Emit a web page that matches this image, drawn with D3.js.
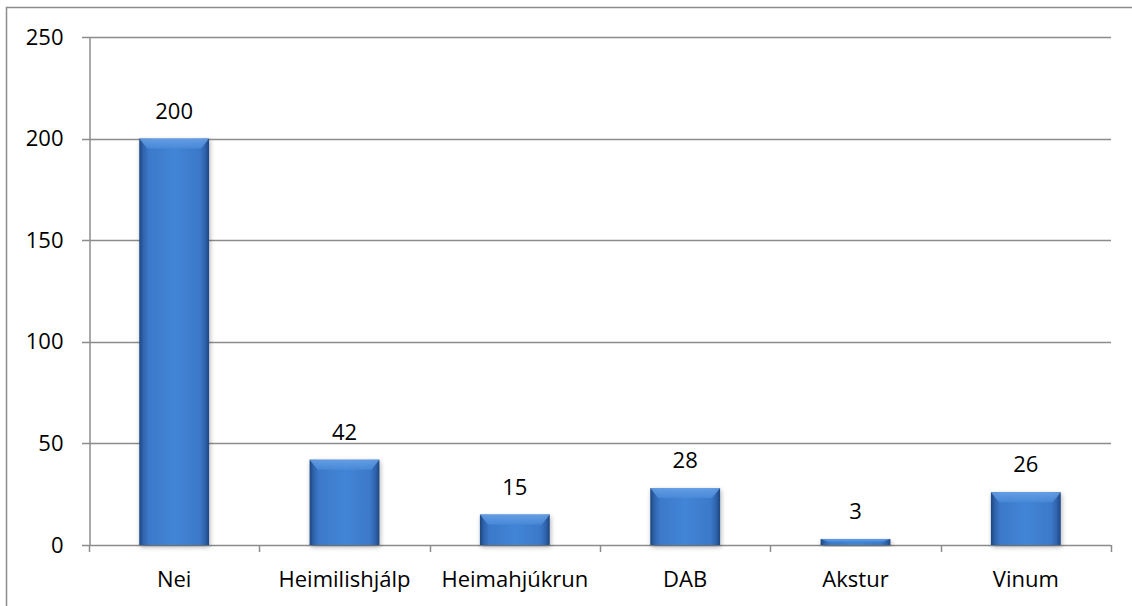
<!DOCTYPE html>
<html><head><meta charset="utf-8">
<script src="https://cdn.jsdelivr.net/npm/d3@7"></script>
<style>body{margin:0;background:#fff}svg{display:block}</style>
</head><body><svg id="c" width="1132" height="606"></svg>
<script>
const categories = ["Nei","Heimilishjálp","Heimahjúkrun","DAB","Akstur","Vinum"];
const values = [200,42,15,28,3,26];
const yTicks = [0,50,100,150,200,250];

const svg = d3.select("#c");
const font = "'Open Sans', sans-serif";
const fs = 22;
const m = {l:89, r:1111, t:37, b:545};

svg.append("rect").attr("x",6.5).attr("y",7.5).attr("width",1140).attr("height",620)
  .attr("fill","none").attr("stroke","#8c8c8c").attr("stroke-width",1.5);

const x = d3.scaleBand().domain(categories).range([m.l,m.r]).paddingInner(0.59).paddingOuter(0.295);
const y = d3.scaleLinear().domain([0,250]).range([m.b,m.t]);

const defs = svg.append("defs");
const g = defs.append("linearGradient").attr("id","bar").attr("x1","0").attr("x2","1").attr("y1","0").attr("y2","0");
[[0,"#1d4680"],[0.06,"#3064ad"],[0.14,"#3c79ca"],[0.5,"#4285d6"],[0.86,"#3c79ca"],[0.94,"#3064ad"],[1,"#1d4680"]]
  .forEach(([o,c])=>g.append("stop").attr("offset",o).attr("stop-color",c));
const gt = defs.append("linearGradient").attr("id","bartop").attr("x1","0").attr("x2","0").attr("y1","0").attr("y2","1");
[[0,"#6aa3e8"],[1,"#4a8ad8"]].forEach(([o,c])=>gt.append("stop").attr("offset",o).attr("stop-color",c));
const sh = defs.append("filter").attr("id","sh").attr("x","-20%").attr("y","-10%").attr("width","140%").attr("height","130%");
sh.append("feGaussianBlur").attr("in","SourceAlpha").attr("stdDeviation",2.5);
sh.append("feOffset").attr("dx",1).attr("dy",2).attr("result","b");
sh.append("feComponentTransfer").append("feFuncA").attr("type","linear").attr("slope",0.3);
const fm = sh.append("feMerge"); fm.append("feMergeNode"); fm.append("feMergeNode").attr("in","SourceGraphic");

// gridlines
svg.append("g").selectAll("line").data(yTicks).join("line")
  .attr("x1",m.l-7).attr("x2",m.r).attr("y1",d=>Math.round(y(d))+0.5).attr("y2",d=>Math.round(y(d))+0.5)
  .attr("stroke","#8c8c8c").attr("stroke-width",1.5);

// y axis
const ya = svg.append("g").attr("transform",`translate(${m.l+0.5},0)`)
  .call(d3.axisLeft(y).tickValues(yTicks).tickSize(0).tickPadding(26));
ya.select(".domain").attr("stroke","#8c8c8c").attr("stroke-width",1.5);
ya.selectAll("text").attr("font-family",font).attr("font-size",fs).attr("fill","#000");

// x axis
const xa = svg.append("g").attr("transform",`translate(0,${m.b+0.5})`)
  .call(d3.axisBottom(x).tickSize(0).tickPadding(0));
xa.select(".domain").remove();
xa.selectAll("text").attr("font-family",font).attr("font-size",fs).attr("fill","#000").attr("y",41).attr("dy",0);
const bounds = d3.range(categories.length+1).map(i=>m.l + i*(m.r-m.l)/categories.length);
svg.append("g").selectAll("line").data(bounds).join("line")
  .attr("x1",d=>Math.round(d)+0.5).attr("x2",d=>Math.round(d)+0.5).attr("y1",m.b).attr("y2",m.b+7)
  .attr("stroke","#8c8c8c").attr("stroke-width",1.5);

// bars
const bars = svg.append("g").selectAll("g").data(categories).join("g").attr("filter","url(#sh)");
bars.append("rect").attr("x",d=>x(d)).attr("width",x.bandwidth())
  .attr("y",(d,i)=>y(values[i])).attr("height",(d,i)=>y(0)-y(values[i])).attr("fill","url(#bar)");
bars.append("path").attr("d",(d,i)=>{
  const x0=x(d), x1=x0+x.bandwidth(), t=y(values[i]), h=Math.min(10,(y(0)-t)/2);
  return `M${x0},${t}L${x1},${t}L${x1-8},${t+h}L${x0+8},${t+h}Z`;
}).attr("fill","url(#bartop)").attr("opacity",0.85);

// value labels
svg.append("g").selectAll("text").data(categories).join("text")
  .attr("x",d=>x(d)+x.bandwidth()/2).attr("y",(d,i)=>y(values[i])-20)
  .attr("text-anchor","middle").attr("font-family",font).attr("font-size",fs).attr("fill","#000")
  .text((d,i)=>values[i]);
</script></body></html>
